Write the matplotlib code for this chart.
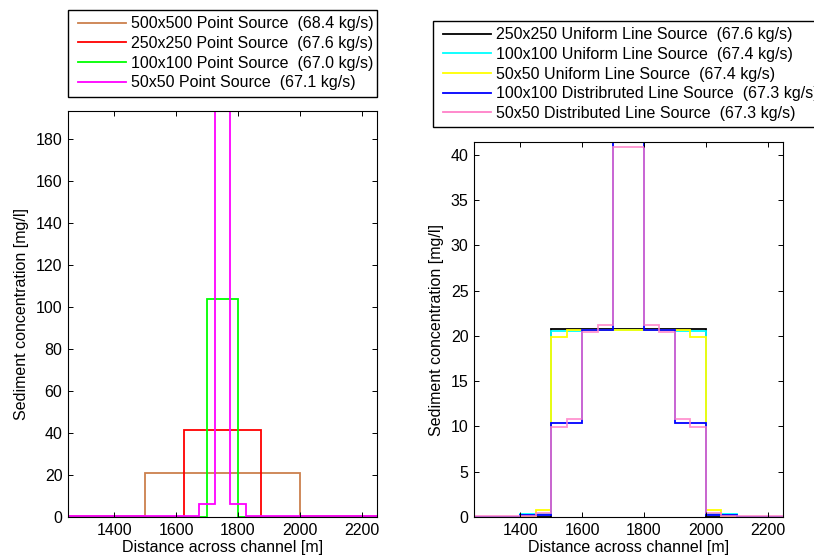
import matplotlib
matplotlib.use("Agg")
import matplotlib.pyplot as plt
from matplotlib.legend_handler import HandlerLine2D

plt.rcParams["font.family"] = ["Liberation Sans", "DejaVu Sans"]
FS = 11.5
plt.rcParams["font.size"] = FS

# --- Point-source runs (cell edges [m], concentration [mg/l]) --------------
pt500_edges = [1000, 1500, 2000, 2500]
pt500_vals = [0.3, 21.0, 0.3]

pt250_edges = [1125, 1375, 1625, 1875, 2125, 2375]
pt250_vals = [0.2, 0.2, 41.3, 0.2, 0.2]

pt100_edges = [1200, 1300, 1400, 1500, 1600, 1700, 1800, 1900, 2000, 2100, 2200, 2300]
pt100_vals = [0.0, 0.0, 0.0, 0.0, 0.0, 103.8, 0.0, 0.0, 0.0, 0.0, 0.0]

pt50_edges = [1225, 1675, 1725, 1775, 1825, 2275]
pt50_vals = [0.4, 6.3, 193.5, 6.3, 0.4]

point_labels = [
    "500x500 Point Source  (68.4 kg/s)",
    "250x250 Point Source  (67.6 kg/s)",
    "100x100 Point Source  (67.0 kg/s)",
    "50x50 Point Source  (67.1 kg/s)",
]

# --- Line-source runs --------------------------------------------------------
ul250_edges = [1000, 1250, 1500, 1750, 2000, 2250, 2500]
ul250_vals = [0.0, 0.0, 20.8, 20.8, 0.0, 0.0]

ul100_edges = [1200, 1300, 1400, 1500, 1600, 1700, 1800, 1900, 2000, 2100, 2200, 2300]
ul100_vals = [0.05, 0.05, 0.35, 20.5, 20.7, 20.7, 20.7, 20.5, 0.35, 0.05, 0.05]

ul50_edges = [1250, 1450, 1500, 1550, 1600, 1900, 1950, 2000, 2050, 2100, 2250]
ul50_vals = [0.0, 0.8, 19.9, 20.6, 20.7, 20.6, 19.9, 0.8, 0.1, 0.0]

dl100_edges = [1200, 1300, 1400, 1500, 1600, 1700, 1800, 1900, 2000, 2100, 2200, 2300]
dl100_vals = [0.0, 0.0, 0.25, 10.4, 20.6, 41.4, 20.6, 10.4, 0.25, 0.0, 0.0]

dl50_edges = [1250, 1450, 1500, 1550, 1600, 1650, 1700, 1750, 1800, 1850, 1900,
              1950, 2000, 2050, 2250]
dl50_vals = [0.1, 0.4, 9.95, 10.8, 20.4, 21.25, 40.85, 40.85, 21.25, 20.4, 10.8,
             9.95, 0.4, 0.1]

line_labels = [
    "250x250 Uniform Line Source  (67.6 kg/s)",
    "100x100 Uniform Line Source  (67.4 kg/s)",
    "50x50 Uniform Line Source  (67.4 kg/s)",
    "100x100 Distribruted Line Source  (67.3 kg/s)",
    "50x50 Distributed Line Source  (67.3 kg/s)",
]

BROWN = "#CC804D"
PINK = "#FF80C8"
LW = 1.3

W, H = 814, 560
fig = plt.figure(figsize=(W / 100, H / 100), dpi=100)

def px_axes(x0, y0, x1, y1):
    # pixel box (from top-left) -> figure axes
    return fig.add_axes([x0 / W, 1 - y1 / H, (x1 - x0) / W, (y1 - y0) / H])

def style(ax):
    ax.tick_params(direction="in", top=True, right=True, length=3.5, width=0.7,
                   labelsize=FS, pad=4)
    for s in ax.spines.values():
        s.set_linewidth(0.8)
    ax.set_xlim(1250, 2250)
    ax.set_xticks([1400, 1600, 1800, 2000, 2200])
    ax.set_xlabel("Distance across channel [m]", fontsize=FS, labelpad=1.5)
    ax.set_ylabel("Sediment concentration [mg/l]", fontsize=FS, labelpad=5)

legend_kw = dict(fontsize=FS, frameon=True, fancybox=False, edgecolor="black",
                 framealpha=1, borderaxespad=0, handlelength=3.22,
                 handletextpad=0.3, labelspacing=0.29, borderpad=0.4,
                 handler_map={plt.Line2D: HandlerLine2D(xpad=0.2)})

# Left panel: point sources
ax1 = px_axes(68, 111, 377, 517)
h1 = [
    ax1.stairs(pt500_vals, pt500_edges, color=BROWN, lw=LW),
    ax1.stairs(pt250_vals, pt250_edges, color="#FF0000", lw=LW),
    ax1.stairs(pt100_vals, pt100_edges, color="#00FF00", lw=LW),
    ax1.stairs(pt50_vals, pt50_edges, color="#FF00FF", lw=LW),
]
style(ax1)
ax1.set_ylim(0, max(pt50_vals))
ax1.set_yticks(range(0, 181, 20))
fig.legend([plt.Line2D([], [], color=h.get_edgecolor(), lw=LW) for h in h1],
           point_labels, loc="upper left",
           bbox_to_anchor=(68 / W, 1 - 10 / H, 309 / W, 0), mode="expand",
           **legend_kw)

# Right panel: line sources
ax2 = px_axes(474, 142, 783, 517)
h2 = [
    ax2.stairs(ul250_vals, ul250_edges, color="#000000", lw=LW),
    ax2.stairs(ul100_vals, ul100_edges, color="#00FFFF", lw=LW),
    ax2.stairs(ul50_vals, ul50_edges, color="#FFFF00", lw=LW),
    ax2.stairs(dl100_vals, dl100_edges, color="#0000FF", lw=LW),
    ax2.stairs(dl50_vals, dl50_edges, color=PINK, lw=LW, alpha=0.85),
]
style(ax2)
ax2.set_ylim(0, max(dl100_vals))
ax2.set_yticks(range(0, 41, 5))
fig.legend([plt.Line2D([], [], color=h.get_edgecolor()[:3], lw=LW) for h in h2],
           line_labels, loc="upper left",
           bbox_to_anchor=(433 / W, 1 - 21 / H), **legend_kw)

fig.savefig("out.png", dpi=100)
